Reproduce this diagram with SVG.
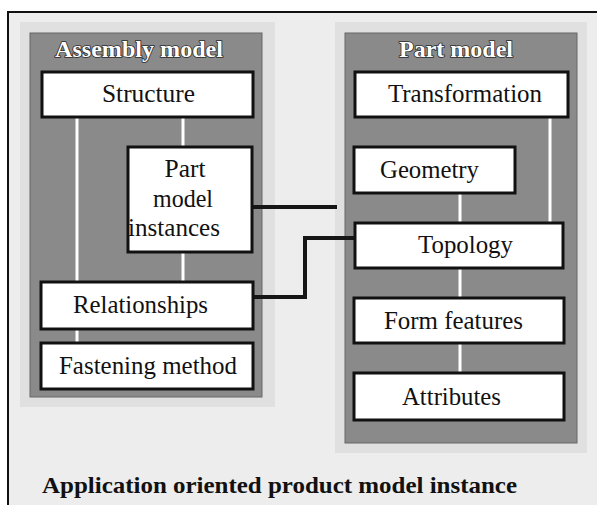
<svg xmlns="http://www.w3.org/2000/svg" width="597" height="505" viewBox="0 0 597 505">
<style>
.bg{fill:#ededed}
.halo{fill:#e0e0e0}
.panel{fill:#8a8a8a;stroke:#666;stroke-width:1}
.box{fill:#ffffff;stroke:#111;stroke-width:3}
text{font-family:'Liberation Serif','DejaVu Serif',serif}
.t{font-size:25px;fill:#111;text-anchor:middle}
.title{font-size:23px;font-weight:bold;fill:#fff;stroke:#2a2a2a;stroke-width:1.6;paint-order:stroke;text-anchor:middle}
.cap{font-size:24px;font-weight:bold;fill:#111}
.wl{stroke:#fff;stroke-width:3;fill:none}
.cn{stroke:#161616;stroke-width:4;fill:none}
</style>
<rect x="0" y="0" width="597" height="505" fill="#ffffff"/>
<rect class="bg" x="8" y="12" width="589" height="493"/>
<path d="M8,505 V12 H597" fill="none" stroke="#111" stroke-width="2"/>
<g id="assembly-model">
<rect class="halo" x="20" y="22" width="255" height="385"/>
<rect class="panel" x="30" y="33" width="232" height="364"/>
<text class="title" x="139" y="57" textLength="168" lengthAdjust="spacingAndGlyphs">Assembly model</text>
</g>
<g id="part-model">
<rect class="halo" x="335" y="22" width="252" height="431"/>
<rect class="panel" x="345" y="33" width="232" height="410"/>
<text class="title" x="456" y="57" textLength="114" lengthAdjust="spacingAndGlyphs">Part model</text>
</g>
<g id="connectors">
<path class="wl" d="M77,117 V282 M77,329 V343 M183,117 V147 M183,252 V282"/>
<path class="wl" d="M460,193 V223 M460,268 V298 M460,343 V373 M550,117 V223"/>
<path class="cn" d="M252,207 H337"/>
<path class="cn" d="M253,297 H305 V238 H355"/>
</g>
<g id="structure">
<rect class="box" x="42" y="72" width="211" height="45"/>
<text class="t" x="148.5" y="102" textLength="93" lengthAdjust="spacingAndGlyphs">Structure</text>
</g>
<g id="part-model-instances">
<rect class="box" x="128" y="147" width="124" height="105"/>
<text class="t" x="185" y="177" textLength="41" lengthAdjust="spacingAndGlyphs">Part</text>
<text class="t" x="183" y="207" textLength="60" lengthAdjust="spacingAndGlyphs">model</text>
<text class="t" x="174" y="236" textLength="92" lengthAdjust="spacingAndGlyphs">instances</text>
</g>
<g id="relationships">
<rect class="box" x="41" y="282" width="212" height="47"/>
<text class="t" x="140.5" y="313" textLength="135" lengthAdjust="spacingAndGlyphs">Relationships</text>
</g>
<g id="fastening-method">
<rect class="box" x="41" y="343" width="212" height="46"/>
<text class="t" x="148" y="374" textLength="178" lengthAdjust="spacingAndGlyphs">Fastening method</text>
</g>
<g id="transformation">
<rect class="box" x="355" y="72" width="213" height="45"/>
<text class="t" x="465" y="102" textLength="154" lengthAdjust="spacingAndGlyphs">Transformation</text>
</g>
<g id="geometry">
<rect class="box" x="354" y="147" width="161" height="46"/>
<text class="t" x="429.5" y="178" textLength="99" lengthAdjust="spacingAndGlyphs">Geometry</text>
</g>
<g id="topology">
<rect class="box" x="355" y="223" width="208" height="45"/>
<text class="t" x="465.5" y="253" textLength="95" lengthAdjust="spacingAndGlyphs">Topology</text>
</g>
<g id="form-features">
<rect class="box" x="354" y="298" width="210" height="45"/>
<text class="t" x="453.5" y="329" textLength="139" lengthAdjust="spacingAndGlyphs">Form features</text>
</g>
<g id="attributes">
<rect class="box" x="354" y="373" width="210" height="47"/>
<text class="t" x="451.5" y="405" textLength="99" lengthAdjust="spacingAndGlyphs">Attributes</text>
</g>
<text class="cap" x="42" y="493" textLength="475" lengthAdjust="spacingAndGlyphs">Application oriented product model instance</text>
</svg>
